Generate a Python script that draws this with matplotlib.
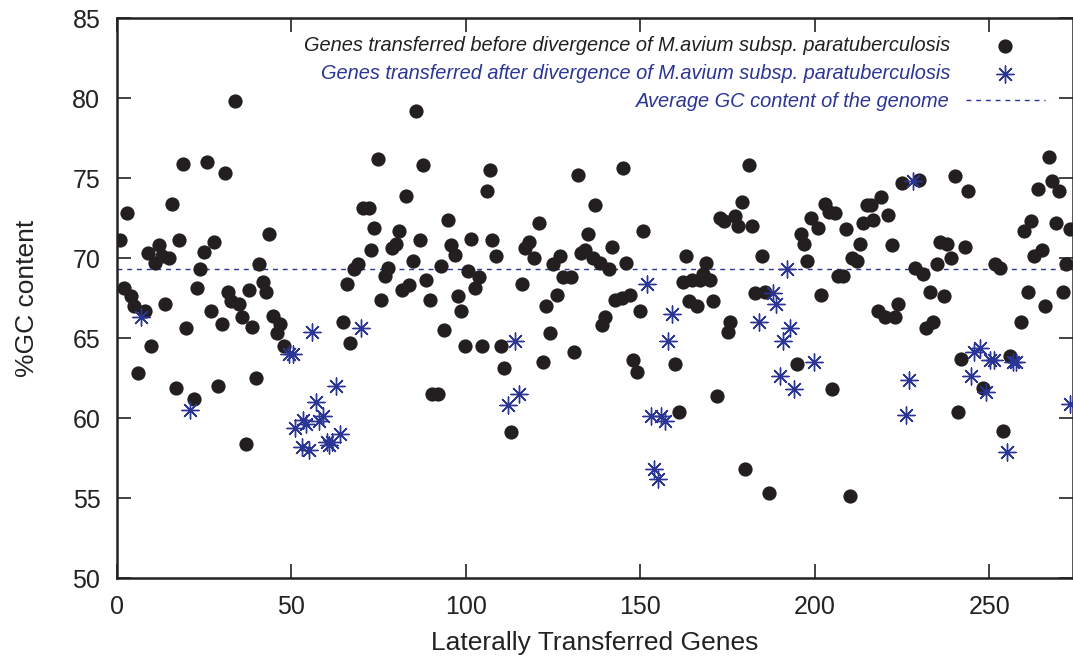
import numpy as np
import matplotlib
matplotlib.use('Agg')
import matplotlib.pyplot as plt

plt.rcParams['font.family'] = ['Liberation Sans', 'DejaVu Sans']

# genes transferred before divergence (black dots): position, %GC
before_x = [33.8, 19.0, 25.8, 30.9, 3.0, 15.9, 1.0, 43.7, 11.9, 9.0, 17.8, 27.8, 25.0, 15.0, 12.8,
            11.0, 40.8, 23.9, 1.9, 4.0, 22.8, 31.9, 37.8, 41.8, 42.8, 5.0, 7.9, 13.9, 32.8, 35.1,
            26.9, 30.0, 35.8, 38.8, 44.8, 46.8, 45.9, 19.9, 9.8, 47.8, 6.0, 17.0, 22.0, 28.9, 39.9,
            36.9,
            85.7, 74.9, 87.7, 82.8, 70.4, 72.1, 94.8, 73.8, 80.8, 72.8, 78.9, 79.9, 86.8, 95.7, 96.8,
            101.6, 84.8, 69.0, 67.8, 77.8, 76.9, 92.8, 100.7, 103.7, 102.6, 65.8, 88.7, 83.7, 81.8,
            75.8, 89.7, 97.7, 98.7, 64.8, 66.8, 93.7, 99.7, 104.7, 90.4, 92.1, 107.0, 106.0, 107.5,
            108.5,
            110.0, 110.9, 112.9, 116.0, 121.0, 118.0, 116.8, 119.5, 125.0, 127.0, 127.9, 130.0,
            126.0, 123.0, 124.0, 122.0, 131.0, 132.0, 137.0, 144.9, 134.9, 132.9, 134.2, 136.5,
            138.4, 141.0, 142.0, 146.0, 150.9, 142.7, 144.6, 147.0, 150.0, 140.0, 138.9, 148.0,
            149.0, 160.0, 161.0,
            163.0, 168.9, 162.1, 164.9, 167.0, 170.1, 168.0, 164.0, 166.1, 170.9, 172.0, 175.8,
            175.0, 181.0, 179.0, 172.8, 174.0, 177.1, 178.0, 182.0, 185.0, 182.8, 185.7, 194.9,
            180.0, 186.9, 210.0, 202.9, 204.1, 205.9, 199.0, 201.0, 196.0, 196.9, 197.9, 208.9,
            213.0, 210.8, 212.0, 206.7, 208.1, 201.9, 204.9, 213.8, 216.7, 215.0, 216.2,
            219.0, 221.1, 222.0, 224.9, 229.9, 240.1, 244.0, 228.8, 231.1, 234.9, 235.9, 238.0,
            239.0, 243.0, 233.0, 237.0, 223.9, 218.2, 220.1, 223.0, 234.0, 232.0, 241.9, 248.3,
            255.9, 240.9, 254.0, 251.6, 253.0, 267.0, 264.0, 268.0, 270.0, 262.0, 260.0, 269.0,
            273.1, 265.0, 262.9, 272.0, 261.0, 271.0, 266.0, 259.0]
before_gc = [79.8, 75.9, 76.0, 75.3, 72.8, 73.4, 71.1, 71.5, 70.8, 70.3, 71.1, 71.0, 70.4, 70.0, 70.1,
             69.7, 69.6, 69.3, 68.1, 67.6, 68.1, 67.9, 68.0, 68.5, 67.9, 67.0, 66.7, 67.1, 67.3, 67.1,
             66.7, 65.9, 66.3, 65.7, 66.4, 65.9, 65.3, 65.6, 64.5, 64.5, 62.8, 61.9, 61.2, 62.0, 62.5,
             58.4,
             79.2, 76.2, 75.8, 73.9, 73.1, 73.1, 72.4, 71.9, 71.7, 70.5, 70.6, 70.9, 71.1, 70.8, 70.2,
             71.2, 69.8, 69.6, 69.3, 69.4, 68.9, 69.5, 69.2, 68.8, 68.1, 68.4, 68.6, 68.3, 68.0,
             67.4, 67.4, 67.6, 66.7, 66.0, 64.7, 65.5, 64.5, 64.5, 61.5, 61.5, 75.5, 74.2, 71.1,
             70.1,
             64.5, 63.1, 59.1, 68.4, 72.2, 71.0, 70.6, 70.0, 69.6, 70.1, 68.8, 68.8,
             67.7, 67.0, 65.3, 63.5, 64.1, 75.2, 73.3, 75.6, 71.5, 70.3, 70.5, 70.0,
             69.7, 69.3, 70.7, 69.7, 71.7, 67.4, 67.5, 67.7, 66.7, 66.3, 65.8, 63.6,
             62.9, 63.4, 60.4,
             70.1, 69.7, 68.5, 68.6, 68.6, 68.6, 69.0, 67.3, 67.0, 67.3, 61.4, 66.0,
             65.4, 75.8, 73.5, 72.5, 72.3, 72.6, 72.0, 72.0, 70.1, 67.8, 67.9, 63.4,
             56.8, 55.3, 55.1, 73.4, 72.9, 72.8, 72.5, 71.9, 71.5, 70.9, 69.8, 71.8,
             70.9, 70.0, 69.8, 68.9, 68.9, 67.7, 61.8, 72.2, 72.4, 73.3, 73.3,
             73.8, 72.7, 70.8, 74.7, 74.9, 75.1, 74.2, 69.4, 69.0, 69.6, 71.0, 70.9,
             70.0, 70.7, 67.9, 67.6, 67.1, 66.7, 66.3, 66.3, 66.0, 65.6, 63.7, 61.9,
             63.9, 60.4, 59.2, 69.6, 69.4, 76.3, 74.3, 74.8, 74.2, 72.3, 71.7, 72.2,
             71.8, 70.5, 70.1, 69.6, 67.9, 67.9, 67.0, 66.0]

# genes transferred after divergence (blue stars)
after_x = [7.0, 20.9, 49.4, 50.4, 51.0, 52.9, 53.2, 54.2, 55.1, 55.9, 56.9, 58.0, 59.1, 60.1, 60.8,
           61.6, 62.9, 63.9, 70.0,
           114.0, 115.1, 112.0, 151.8, 159.0, 158.0, 153.0, 155.8, 157.0, 154.0, 155.0,
           191.9, 188.0, 189.0, 183.9, 192.8, 191.0, 199.9, 190.0, 194.1,
           228.0, 227.1, 226.0, 245.7, 247.3, 250.2, 251.3, 244.9, 249.0, 256.9, 257.8, 255.0, 273.0]
after_gc = [66.3, 60.5, 64.0, 64.0, 59.4, 58.2, 59.9, 59.6, 58.0, 65.4, 61.0, 59.8, 60.1, 58.5, 58.3,
            58.5, 62.0, 59.0, 65.6,
            64.8, 61.5, 60.8, 68.4, 66.5, 64.8, 60.1, 60.1, 59.8, 56.8, 56.2,
            69.3, 67.8, 67.1, 66.0, 65.6, 64.8, 63.5, 62.6, 61.8,
            74.8, 62.4, 60.2, 64.1, 64.4, 63.6, 63.6, 62.6, 61.6, 63.5, 63.5, 57.9, 60.9]

genome_avg_gc = 69.3

label_before = 'Genes transferred before divergence of M.avium subsp. paratuberculosis'
label_after = 'Genes transferred after divergence of M.avium subsp. paratuberculosis'
label_avg = 'Average GC content of the genome'

blue = '#2b3595'
dark = '#231f20'

fig = plt.figure(figsize=(10.73, 6.58), dpi=100)
ax = fig.add_axes([117 / 1073, 80 / 658, 956 / 1073, 560 / 658])

ax.scatter(before_x, before_gc, s=105, color=dark, marker='o', linewidths=0,
           label=label_before, zorder=2)
ax.scatter(after_x, after_gc, s=150, color=blue, marker=(8, 2, 0), linewidths=1.0,
           label=label_after, zorder=3)
ax.axhline(genome_avg_gc, color=blue, lw=1.0, dashes=(3.5, 3.5), label=label_avg, zorder=1)

ax.set_xlim(0, 274)
ax.set_ylim(50, 85)
ax.set_xticks(np.arange(0, 251, 50))
ax.set_yticks(np.arange(50, 86, 5))
ax.tick_params(direction='in', length=10, width=1.2, top=True, right=True,
               labelsize=18, pad=12, colors='#222222')
for sp in ax.spines.values():
    sp.set_linewidth(1.8)
    sp.set_color('#222222')

ax.set_xlabel('Laterally Transferred Genes', fontsize=19, labelpad=9, color='#222222')
ax.set_ylabel('%GC content', fontsize=19, labelpad=24, color='#222222')

leg = ax.legend(loc='upper right', bbox_to_anchor=(0.9707, 0.968), frameon=False,
                markerfirst=False, fontsize=14.4, handlelength=3.95, handletextpad=0.8,
                labelspacing=0.45, borderpad=0, borderaxespad=0)
for t, c in zip(leg.get_texts(), [dark, blue, blue]):
    t.set_color(c)
    t.set_fontstyle('italic')

fig.savefig('out.png', dpi=100)
